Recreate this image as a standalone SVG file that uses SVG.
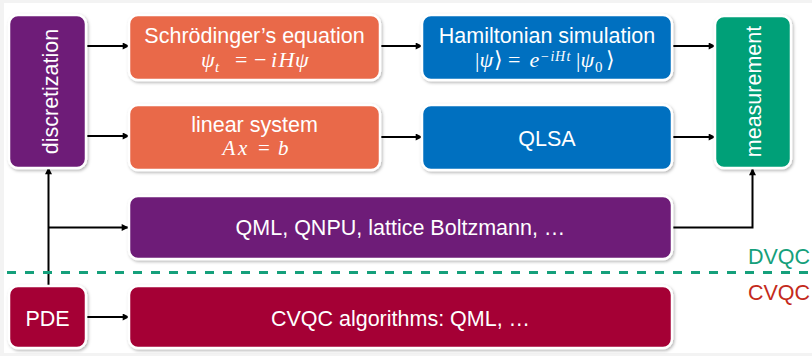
<svg xmlns="http://www.w3.org/2000/svg" width="812" height="356" viewBox="0 0 812 356">
<defs>
<style>
.box{stroke:#fff;stroke-width:2.5;filter:url(#sh)}
.lbl{font-family:"Liberation Sans",Arial,sans-serif;font-size:21.5px;fill:#fff;text-anchor:middle}
.m{font-family:"Liberation Serif","DejaVu Serif",serif;font-size:22px;fill:#fff;font-style:italic}
.m21{font-size:21px}
.u{font-style:normal}
.s{font-size:15px}
.sp{font-size:14px}
.con{fill:none;stroke:#000;stroke-width:2;marker-end:url(#ah)}
.purple{fill:#6e1e78}
.orange{fill:#e9694a}
.blue{fill:#0070c0}
.green{fill:#00a078}
.crimson{fill:#a50034}
</style>
<filter id="sh" x="-10%" y="-10%" width="120%" height="130%">
<feDropShadow dx="1.2" dy="1.5" stdDeviation="1.4" flood-color="#000" flood-opacity="0.3"/>
</filter>
<marker id="ah" viewBox="0 0 10 10" refX="9" refY="5" markerWidth="8" markerHeight="7" markerUnits="userSpaceOnUse" orient="auto">
<path d="M0,0 L10,5 L0,10 Z" fill="#000"/>
</marker>
</defs>
<rect x="0" y="0" width="812" height="356" fill="#f3f3f3"/>
<rect x="4" y="3" width="808" height="350" fill="#fff"/>

<g id="connectors">
<line class="con" x1="86" y1="46" x2="129" y2="46"/>
<line class="con" x1="86" y1="136" x2="129" y2="136"/>
<line class="con" x1="380" y1="46" x2="422" y2="46"/>
<line class="con" x1="380" y1="137" x2="422" y2="137"/>
<line class="con" x1="672" y1="46" x2="715" y2="46"/>
<line class="con" x1="672" y1="137" x2="715" y2="137"/>
<polyline class="con" points="672,227.5 752.5,227.5 752.5,169"/>
<line class="con" x1="48.5" y1="287" x2="48.5" y2="168"/>
<line class="con" x1="48.5" y1="227.5" x2="128" y2="227.5"/>
<line class="con" x1="86" y1="317" x2="129" y2="317"/>
</g>

<line x1="7" y1="272.5" x2="812" y2="272.5" stroke="#15a07b" stroke-width="3" stroke-dasharray="9 9"/>
<text x="810" y="264" font-family="Liberation Sans,Arial,sans-serif" font-size="21.5" fill="#15a07b" text-anchor="end">DVQC</text>
<text x="810" y="299.5" font-family="Liberation Sans,Arial,sans-serif" font-size="21.5" fill="#c42a1c" text-anchor="end">CVQC</text>

<g id="discretization">
<rect class="box purple" x="9" y="15" width="77" height="153" rx="9"/>
<text class="lbl" transform="translate(57.5,91.5) rotate(-90)">discretization</text>
</g>

<g id="schrodinger">
<rect class="box orange" x="129" y="15" width="251" height="65" rx="9"/>
<text class="lbl" x="254.5" y="42.5">Schrödinger’s equation</text>
<text class="m" y="67"><tspan x="201">ψ</tspan><tspan class="s" x="215" y="71.5">t</tspan><tspan class="u" x="235" y="67">=</tspan><tspan class="u" x="254">−</tspan><tspan x="271">i</tspan><tspan x="278.5">H</tspan><tspan x="295">ψ</tspan></text>
</g>

<g id="linear">
<rect class="box orange" x="129" y="105" width="251" height="65" rx="9"/>
<text class="lbl" x="254.5" y="131.5">linear system</text>
<text class="m m21" y="155"><tspan x="222.5">A</tspan><tspan x="238">x</tspan><tspan class="u" x="258">=</tspan><tspan x="278">b</tspan></text>
</g>

<g id="hamiltonian">
<rect class="box blue" x="422" y="15" width="250" height="65" rx="9"/>
<text class="lbl" x="547" y="42.5">Hamiltonian simulation</text>
<text class="m" y="67"><tspan class="u" x="475">|</tspan><tspan x="479.5">ψ</tspan><tspan class="u" x="494">⟩</tspan><tspan class="u" x="508">=</tspan><tspan x="529.5">e</tspan><tspan class="sp u" x="541" y="61">−</tspan><tspan class="sp" x="550.5">i</tspan><tspan class="sp" x="555">H</tspan><tspan class="sp" x="566.5">t</tspan><tspan class="u" x="576" y="67">|</tspan><tspan x="580.5">ψ</tspan><tspan class="s u" x="595" y="71.5">0</tspan><tspan class="u" x="606" y="67">⟩</tspan></text>
</g>

<g id="qlsa">
<rect class="box blue" x="422" y="105" width="250" height="65" rx="9"/>
<text class="lbl" x="547" y="145.5">QLSA</text>
</g>

<g id="measurement">
<rect class="box green" x="715" y="16" width="76" height="152" rx="9"/>
<text class="lbl" transform="translate(761,91.5) rotate(-90)">measurement</text>
</g>

<g id="qml">
<rect class="box purple" x="129" y="196" width="543" height="63" rx="9"/>
<text class="lbl" x="400.5" y="235">QML, QNPU, lattice Boltzmann, …</text>
</g>

<g id="pde">
<rect class="box crimson" x="9" y="286" width="77" height="62" rx="9"/>
<text class="lbl" x="47.5" y="325.5">PDE</text>
</g>

<g id="cvqc">
<rect class="box crimson" x="129" y="286" width="543" height="62" rx="9"/>
<text class="lbl" x="400.5" y="325.5">CVQC algorithms: QML, …</text>
</g>
</svg>
